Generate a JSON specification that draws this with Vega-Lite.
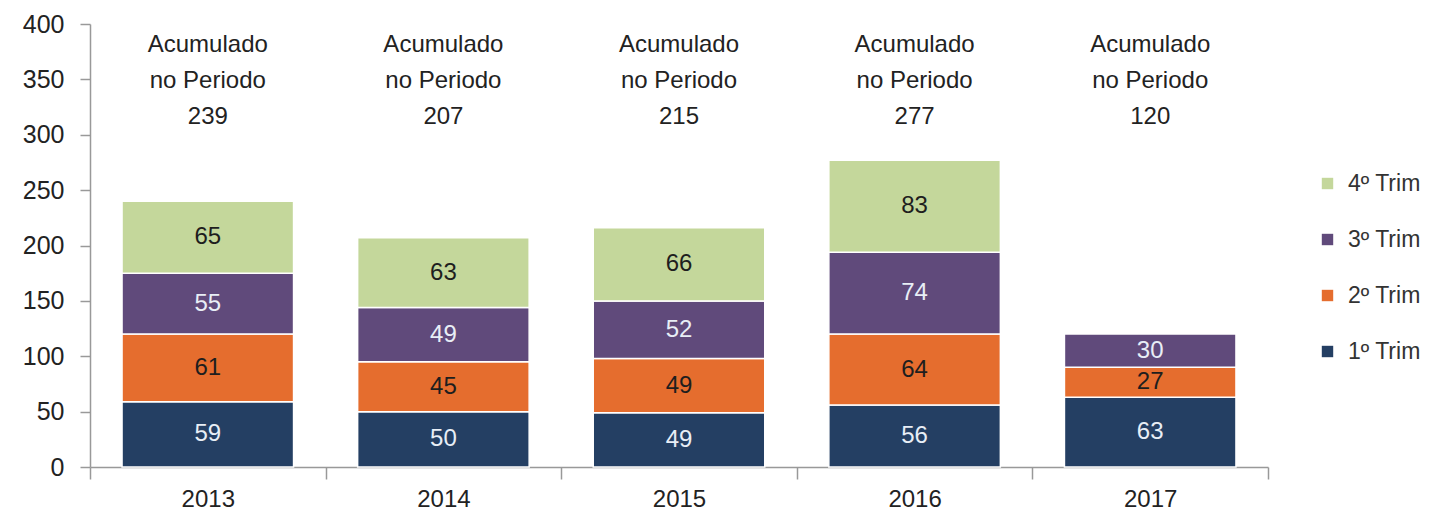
{
  "$schema": "https://vega.github.io/schema/vega-lite/v6.json",
  "autosize": "none",
  "padding": {"left": 90, "top": 24, "right": 163, "bottom": 54},
  "width": 1178,
  "height": 443,
  "background": "white",
  "config": {
    "view": {"stroke": null},
    "font": "Liberation Sans",
    "text": {"lineBreak": "\n"}
  },
  "datasets": {
    "trims": [
      {"ano": "2013", "trim": "1º Trim", "q": 1, "valor": 59},
      {"ano": "2013", "trim": "2º Trim", "q": 2, "valor": 61},
      {"ano": "2013", "trim": "3º Trim", "q": 3, "valor": 55},
      {"ano": "2013", "trim": "4º Trim", "q": 4, "valor": 65},
      {"ano": "2014", "trim": "1º Trim", "q": 1, "valor": 50},
      {"ano": "2014", "trim": "2º Trim", "q": 2, "valor": 45},
      {"ano": "2014", "trim": "3º Trim", "q": 3, "valor": 49},
      {"ano": "2014", "trim": "4º Trim", "q": 4, "valor": 63},
      {"ano": "2015", "trim": "1º Trim", "q": 1, "valor": 49},
      {"ano": "2015", "trim": "2º Trim", "q": 2, "valor": 49},
      {"ano": "2015", "trim": "3º Trim", "q": 3, "valor": 52},
      {"ano": "2015", "trim": "4º Trim", "q": 4, "valor": 66},
      {"ano": "2016", "trim": "1º Trim", "q": 1, "valor": 56},
      {"ano": "2016", "trim": "2º Trim", "q": 2, "valor": 64},
      {"ano": "2016", "trim": "3º Trim", "q": 3, "valor": 74},
      {"ano": "2016", "trim": "4º Trim", "q": 4, "valor": 83},
      {"ano": "2017", "trim": "1º Trim", "q": 1, "valor": 63},
      {"ano": "2017", "trim": "2º Trim", "q": 2, "valor": 27},
      {"ano": "2017", "trim": "3º Trim", "q": 3, "valor": 30}
    ],
    "totais": [
      {"ano": "2013", "rotulo": "Acumulado\nno Periodo\n239"},
      {"ano": "2014", "rotulo": "Acumulado\nno Periodo\n207"},
      {"ano": "2015", "rotulo": "Acumulado\nno Periodo\n215"},
      {"ano": "2016", "rotulo": "Acumulado\nno Periodo\n277"},
      {"ano": "2017", "rotulo": "Acumulado\nno Periodo\n120"}
    ]
  },
  "layer": [
    {
      "data": {"name": "trims"},
      "mark": {"type": "bar", "stroke": "white", "strokeWidth": 1.5, "width": {"band": 0.728}},
      "encoding": {
        "x": {
          "field": "ano", "type": "nominal",
          "scale": {"paddingInner": 0, "paddingOuter": 0},
          "axis": {
            "title": null, "labelAngle": 0, "tickBand": "extent", "tickSize": 12,
            "domainColor": "#999999", "tickColor": "#999999", "domainWidth": 1.5, "tickWidth": 1.5,
            "labelFontSize": 24, "labelColor": "#222222", "labelPadding": 8
          }
        },
        "y": {
          "field": "valor", "type": "quantitative", "stack": "zero",
          "scale": {"domain": [0, 400]},
          "axis": {
            "title": null, "grid": false, "values": [0, 50, 100, 150, 200, 250, 300, 350, 400],
            "tickSize": 10, "labelPadding": 16, "labelFontSize": 25, "labelColor": "#222222",
            "domainColor": "#999999", "tickColor": "#999999", "domainWidth": 1.5, "tickWidth": 1.5
          }
        },
        "color": {
          "field": "trim", "type": "nominal",
          "scale": {
            "domain": ["1º Trim", "2º Trim", "3º Trim", "4º Trim"],
            "range": ["#243f63", "#e56d2e", "#604a7b", "#c4d79b"]
          },
          "legend": {
            "title": null, "orient": "none", "legendX": 1226, "legendY": 148,
            "values": ["4º Trim", "3º Trim", "2º Trim", "1º Trim"],
            "symbolType": "square", "symbolSize": 130, "symbolStrokeWidth": 0,
            "labelFontSize": 23, "labelColor": "#333333", "labelOffset": 9,
            "rowPadding": 32, "padding": 0
          }
        },
        "order": {"field": "q", "type": "quantitative"}
      }
    },
    {
      "data": {"name": "trims"},
      "mark": {"type": "text", "fontSize": 24, "baseline": "middle"},
      "encoding": {
        "x": {"field": "ano", "type": "nominal"},
        "y": {"field": "valor", "type": "quantitative", "stack": "zero", "bandPosition": 0.5},
        "order": {"field": "q", "type": "quantitative"},
        "text": {"field": "valor", "type": "quantitative"},
        "color": {
          "condition": {"test": "datum.q == 1 || datum.q == 3", "value": "#e8eef6"},
          "value": "#1e1e1e"
        }
      }
    },
    {
      "data": {"name": "totais"},
      "mark": {"type": "text", "fontSize": 24, "baseline": "top", "lineHeight": 36, "color": "#222222"},
      "encoding": {
        "x": {"field": "ano", "type": "nominal"},
        "y": {"datum": 392},
        "text": {"field": "rotulo", "type": "nominal"}
      }
    }
  ]
}
